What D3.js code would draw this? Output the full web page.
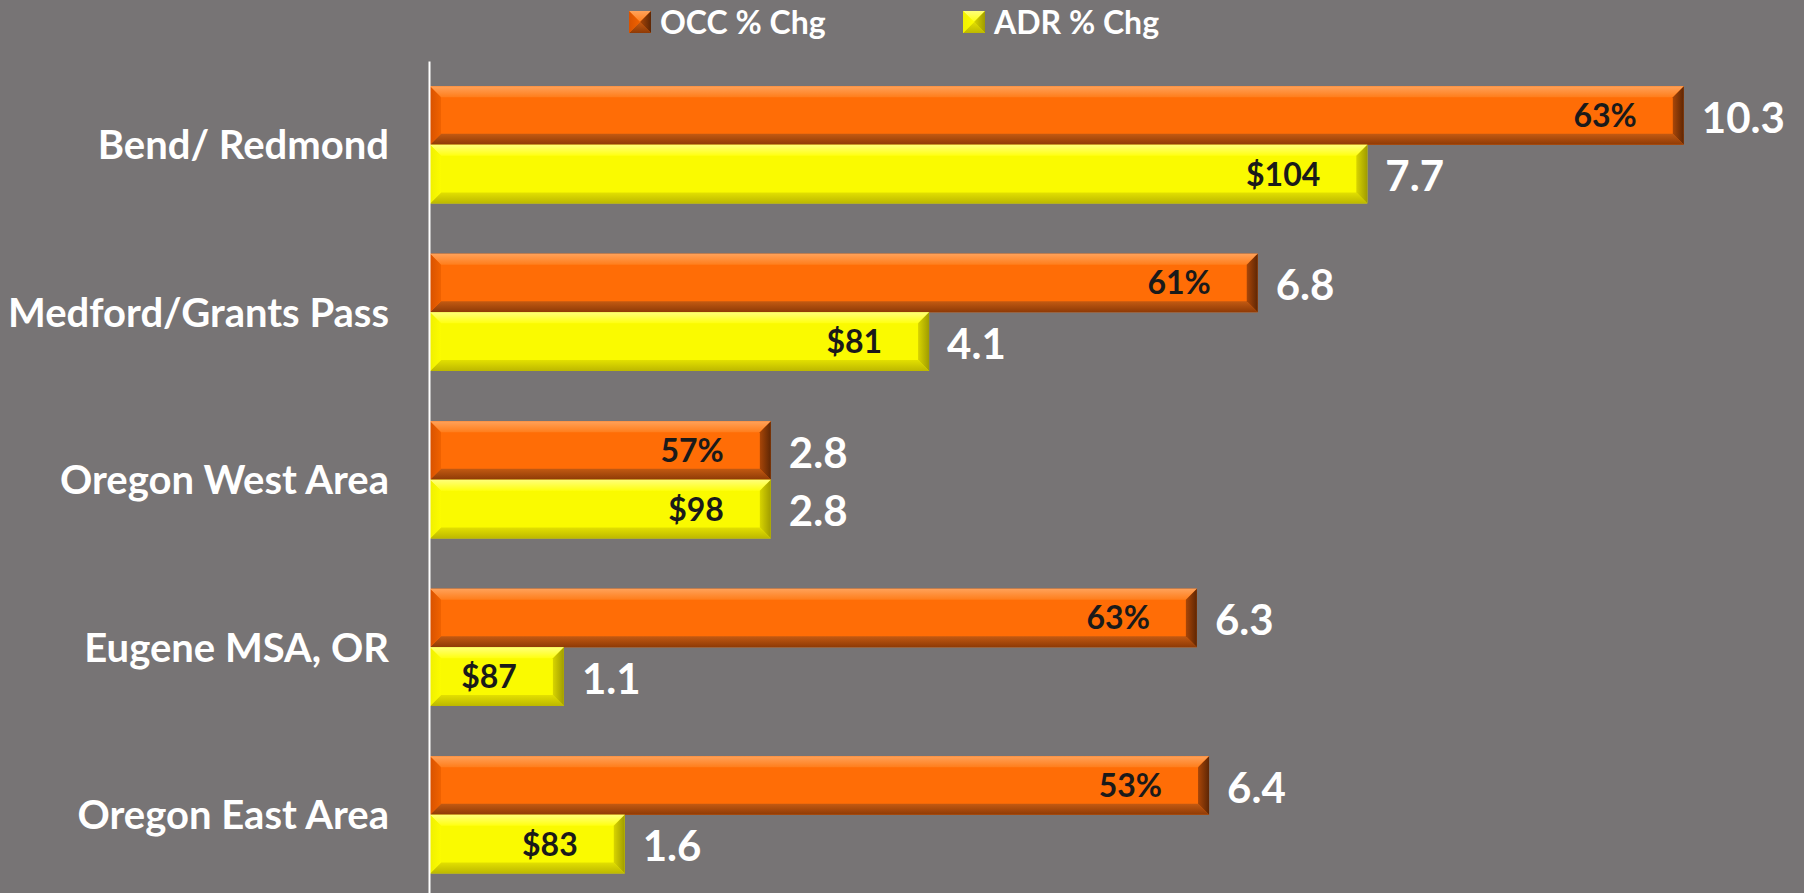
<!DOCTYPE html>
<html>
<head>
<meta charset="utf-8">
<script src="https://cdn.jsdelivr.net/npm/d3@7"></script>
<style>
  html, body { margin: 0; padding: 0; background: #777475; overflow: hidden; }
  svg { display: block; }
  text { font-family: Lato, "Open Sans", sans-serif; font-weight: bold; }
</style>
</head>
<body>
<svg id="chart" width="1804" height="893"></svg>
<script>
// Market regions and their year-over-year changes
const categories = ["Bend/ Redmond", "Medford/Grants Pass", "Oregon West Area", "Eugene MSA, OR", "Oregon East Area"];
const seriesNames = ["OCC % Chg", "ADR % Chg"];
const occChange = [10.3, 6.8, 2.8, 6.3, 6.4];
const adrChange = [7.7, 4.1, 2.8, 1.1, 1.6];
// Current occupancy and average daily rate shown inside each bar
const occLevel = ["63%", "61%", "57%", "63%", "53%"];
const adrLevel = ["$104", "$81", "$98", "$87", "$83"];

const W = 1804, H = 893;
const svg = d3.select("#chart");
svg.append("rect").attr("width", W).attr("height", H).attr("fill", "#777475");

const x = d3.scaleLinear().domain([0, 11]).range([430, 1769]);
const y = d3.scaleBand().domain(categories).range([61, 898.5]).paddingInner(0.3).paddingOuter(0.15);
const ySub = d3.scaleBand().domain(["occ", "adr"]).range([0, y.bandwidth()]);

const styles = {
  occ: { main: "#FF6D06", top: ["#FFA25A", "#FF7E1C"], left: ["#D85200", "#F06200"], bottom: ["#C35A12", "#8E3A06"], right: ["#A84608", "#5E2604"] },
  adr: { main: "#FAFA00", top: ["#FFFF7A", "#FFFF10"], left: ["#F0F000", "#FCFC00"], bottom: ["#E3E000", "#BDB800"], right: ["#D8D400", "#A09C00"] }
};

const defs = svg.append("defs");
function grad(id, c, x1, y1, x2, y2) {
  const g = defs.append("linearGradient").attr("id", id)
    .attr("x1", x1).attr("y1", y1).attr("x2", x2).attr("y2", y2);
  g.append("stop").attr("offset", "0%").attr("stop-color", c[0]);
  g.append("stop").attr("offset", "100%").attr("stop-color", c[1]);
}
for (const k of ["occ", "adr"]) {
  const s = styles[k];
  grad(k + "-top", s.top, 0, 0, 0, 1);
  grad(k + "-bottom", s.bottom, 0, 0, 0, 1);
  grad(k + "-left", s.left, 0, 0, 1, 0);
  grad(k + "-right", s.right, 0, 0, 1, 0);
}

// Bar with an angled bevel on each edge
function bevelBar(g, k, x0, y0, x1, y1, b) {
  const s = styles[k];
  const bx = Math.min(b, (x1 - x0) / 2), by = Math.min(b, (y1 - y0) / 2);
  g.append("rect").attr("x", x0).attr("y", y0).attr("width", x1 - x0).attr("height", y1 - y0).attr("fill", s.main);
  const pts = {
    top: [[x0, y0], [x1, y0], [x1 - bx, y0 + by], [x0 + bx, y0 + by]],
    bottom: [[x0 + bx, y1 - by], [x1 - bx, y1 - by], [x1, y1], [x0, y1]],
    left: [[x0, y0], [x0 + bx, y0 + by], [x0 + bx, y1 - by], [x0, y1]],
    right: [[x1 - bx, y0 + by], [x1, y0], [x1, y1], [x1 - bx, y1 - by]]
  };
  for (const side of ["top", "bottom", "left", "right"]) {
    g.append("polygon").attr("points", pts[side].map(p => p.join(",")).join(" "))
      .attr("fill", `url(#${k}-${side})`);
  }
}

const bars = categories.map((c, i) => ({ cat: c, occ: occChange[i], adr: adrChange[i], occL: occLevel[i], adrL: adrLevel[i] }));

const plot = svg.append("g");
bars.forEach(d => {
  for (const k of ["occ", "adr"]) {
    const y0 = y(d.cat) + ySub(k), y1 = y0 + ySub.bandwidth();
    const x0 = x(0), x1 = x(d[k]);
    const g = plot.append("g");
    bevelBar(g, k, x0, y0, x1, y1, 11);
    const cy = (y0 + y1) / 2;
    g.append("text").attr("x", x1 - 47).attr("y", cy).attr("dy", "0.36em")
      .attr("text-anchor", "end").attr("fill", "#1a1a1a").attr("font-size", 32)
      .text(k === "occ" ? d.occL : d.adrL);
    g.append("text").attr("x", x1 + 18).attr("y", cy + 2).attr("dy", "0.36em")
      .attr("fill", "#ffffff").attr("font-size", 42)
      .text(d3.format(".1f")(d[k]));
  }
});

// Category axis
const axis = svg.append("g").attr("transform", `translate(${x(0) - 1},0)`)
  .call(d3.axisLeft(y).tickSize(0).tickPadding(40));
axis.select(".domain").attr("stroke", "#ffffff").attr("stroke-width", 2);
axis.selectAll(".tick text").attr("fill", "#ffffff").attr("font-size", 40)
  .attr("font-family", "Lato, 'Open Sans', sans-serif").attr("font-weight", "bold").attr("dy", "0.36em");

// Legend
const legendX = [629, 963];
const legend = svg.append("g");
seriesNames.forEach((name, i) => {
  const k = i === 0 ? "occ" : "adr";
  const g = legend.append("g");
  bevelBar(g, k, legendX[i], 11, legendX[i] + 22, 33, 11);
  g.append("text").attr("x", legendX[i] + 31).attr("y", 22).attr("dy", "0.36em")
    .attr("fill", "#ffffff").attr("font-size", 32).text(name);
});
</script>
</body>
</html>
